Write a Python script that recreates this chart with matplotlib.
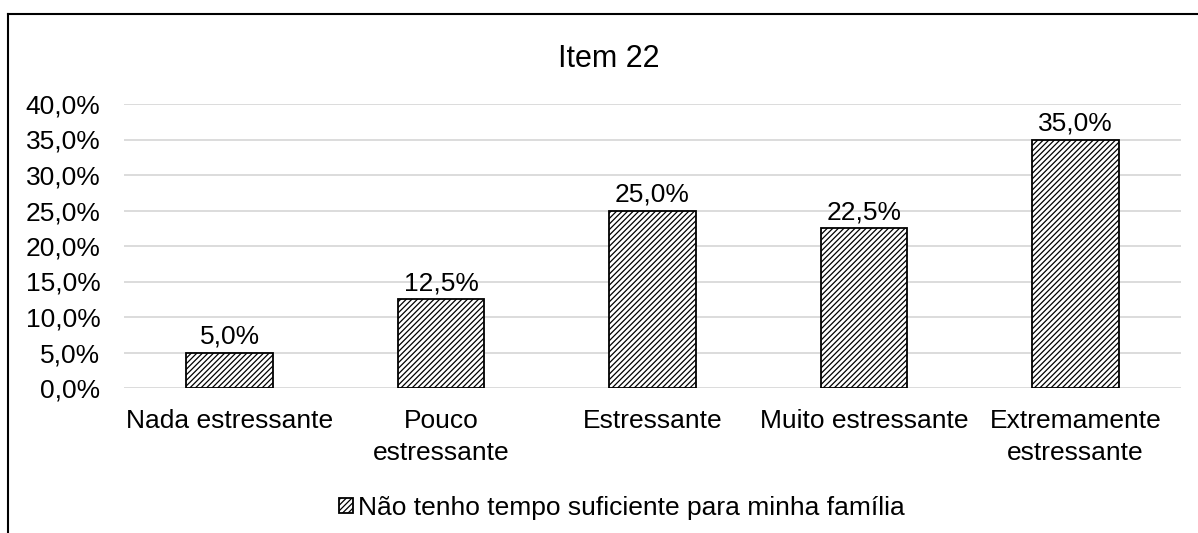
import matplotlib
matplotlib.use("Agg")
import matplotlib.pyplot as plt
from matplotlib.lines import Line2D

plt.rcParams['font.family'] = ['Liberation Sans', 'DejaVu Sans']
plt.rcParams['hatch.linewidth'] = 0.9

# dados do gráfico
categorias = ["Nada estressante", "Pouco\nestressante", "Estressante",
              "Muito estressante", "Extremamente\nestressante"]
valores = [0.05, 0.125, 0.25, 0.225, 0.35]
serie = "Não tenho tempo suficiente para minha família"
titulo = "Item 22"
yticks = [0.0, 0.05, 0.10, 0.15, 0.20, 0.25, 0.30, 0.35, 0.40]


def pct(v):
    return f"{v * 100:.1f}%".replace(".", ",")


W, H = 1198, 533
fig = plt.figure(figsize=(W / 100, H / 100), dpi=100)
ax = fig.add_axes([124 / W, 1 - 388 / H, (1181 - 124) / W, (388 - 104) / H])

x = range(len(categorias))
barras = ax.bar(x, valores, width=0.41, color="white", edgecolor="black",
                linewidth=1.3, hatch="//////", label=serie, zorder=3)

for xi, v in zip(x, valores):
    ax.annotate(pct(v), (xi, v), xytext=(0, 3), textcoords="offset points",
                ha="center", va="bottom", fontsize=19)

ax.set_xlim(-0.5, len(categorias) - 0.5)
ax.set_ylim(0, 0.40)
ax.set_yticks(yticks)
ax.set_yticklabels([pct(t) for t in yticks])
ax.set_xticks(list(x))
ax.set_xticklabels(categorias, linespacing=1.45)
ax.tick_params(axis="both", length=0, labelsize=19)
ax.tick_params(axis="y", pad=17)
ax.tick_params(axis="x", pad=15)
ax.grid(axis="y", color="#d9d9d9", linewidth=1.3, zorder=0)
for s in ax.spines.values():
    s.set_visible(False)

fig.text(609 / W, 1 - 67 / H, titulo, ha="center", va="baseline", fontsize=22)

fig.legend(handles=[barras], labels=[serie], loc="center",
           bbox_to_anchor=(622 / W, 1 - 508 / H), frameon=False, fontsize=19,
           handlelength=0.5, handleheight=0.5, handletextpad=0.2)

# borda da área do gráfico (cortada na direita e embaixo)
fig.add_artist(Line2D([8 / W, 1], [1 - 14 / H, 1 - 14 / H], color="black",
                      linewidth=1.5, transform=fig.transFigure))
fig.add_artist(Line2D([8 / W, 8 / W], [1 - 14 / H, 0], color="black",
                      linewidth=1.5, transform=fig.transFigure))

fig.savefig("out.png", dpi=100)
